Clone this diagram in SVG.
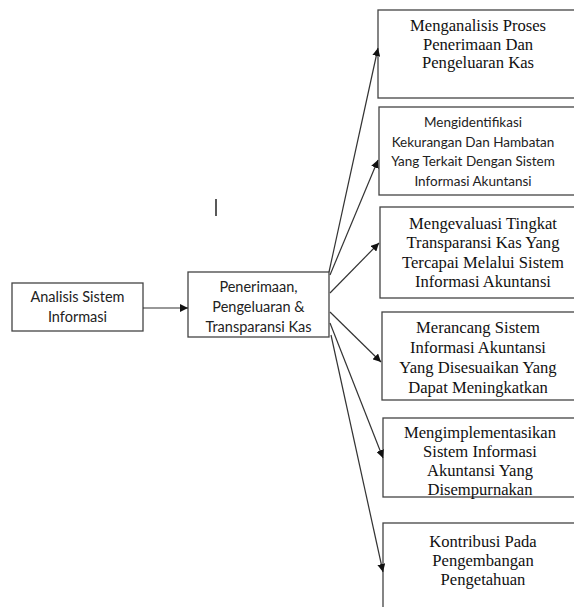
<svg xmlns="http://www.w3.org/2000/svg" width="574" height="607" viewBox="0 0 574 607">
<style>
.box{fill:#fff;stroke:#444;stroke-width:1.3}
.sans{font-family:Lato,"Open Sans","Liberation Sans",sans-serif;font-size:14.5px;fill:#222;text-anchor:middle}
.sm{font-size:13.5px}
.serif{font-family:"Liberation Serif","Times New Roman",serif;font-size:16.6px;fill:#111;text-anchor:middle}
.conn{stroke:#333;stroke-width:1.2;fill:none;marker-end:url(#ah)}
</style>
<defs>
<marker id="ah" markerUnits="userSpaceOnUse" markerWidth="9" markerHeight="8" refX="8" refY="4" orient="auto">
<path d="M0,0 L8,4 L0,8 Z" fill="#111"/>
</marker>
</defs>
<rect x="0" y="0" width="574" height="607" fill="#fff"/>
<g id="n1">
<rect class="box" x="12" y="283" width="131" height="48"/>
<text class="sans" x="77.5" y="302">Analisis Sistem</text>
<text class="sans" x="77.5" y="322">Informasi</text>
</g>
<g id="n2">
<rect class="box" x="188" y="272" width="141" height="65"/>
<text class="sans" x="258.5" y="292">Penerimaan,</text>
<text class="sans" x="258.5" y="312">Pengeluaran &amp;</text>
<text class="sans" x="258.5" y="332">Transparansi Kas</text>
</g>
<g id="nA">
<rect class="box" x="378" y="10" width="220" height="88"/>
<text class="serif" x="478" y="31">Menganalisis Proses</text>
<text class="serif" x="478" y="49.5">Penerimaan Dan</text>
<text class="serif" x="478" y="68">Pengeluaran Kas</text>
</g>
<g id="nB">
<rect class="box" x="379" y="107" width="220" height="88"/>
<text class="sans sm" x="473" y="127">Mengidentifikasi</text>
<text class="sans sm" x="473" y="146.5">Kekurangan Dan Hambatan</text>
<text class="sans sm" x="473" y="166">Yang Terkait Dengan Sistem</text>
<text class="sans sm" x="473" y="185.5">Informasi Akuntansi</text>
</g>
<g id="nC">
<rect class="box" x="380" y="207" width="220" height="91"/>
<text class="serif" x="483" y="229">Mengevaluasi Tingkat</text>
<text class="serif" x="483" y="248.3">Transparansi Kas Yang</text>
<text class="serif" x="483" y="267.7">Tercapai Melalui Sistem</text>
<text class="serif" x="483" y="287">Informasi Akuntansi</text>
</g>
<g id="nD">
<rect class="box" x="382" y="312" width="220" height="88"/>
<text class="serif" x="478" y="333">Merancang Sistem</text>
<text class="serif" x="478" y="353">Informasi Akuntansi</text>
<text class="serif" x="478" y="373">Yang Disesuaikan Yang</text>
<text class="serif" x="478" y="393">Dapat Meningkatkan</text>
</g>
<g id="nE">
<rect class="box" x="383" y="418" width="220" height="79"/>
<text class="serif" x="480" y="438">Mengimplementasikan</text>
<text class="serif" x="480" y="457">Sistem Informasi</text>
<text class="serif" x="480" y="476">Akuntansi Yang</text>
<text class="serif" x="480" y="494.5">Disempurnakan</text>
</g>
<g id="nF">
<rect class="box" x="383" y="523" width="220" height="100"/>
<text class="serif" x="483" y="546.5">Kontribusi Pada</text>
<text class="serif" x="483" y="566">Pengembangan</text>
<text class="serif" x="483" y="585">Pengetahuan</text>
</g>
<g id="connectors">
<line class="conn" x1="143" y1="308" x2="188" y2="308"/>
<line class="conn" x1="329" y1="272" x2="378" y2="48"/>
<line class="conn" x1="330" y1="275" x2="378" y2="160"/>
<line class="conn" x1="330" y1="293" x2="379" y2="243"/>
<line class="conn" x1="330" y1="312" x2="381" y2="362"/>
<line class="conn" x1="330" y1="323" x2="383" y2="458"/>
<line class="conn" x1="331" y1="335" x2="383" y2="572"/>
</g>
<line x1="216" y1="199" x2="216" y2="216" stroke="#222" stroke-width="1.5"/>
</svg>
